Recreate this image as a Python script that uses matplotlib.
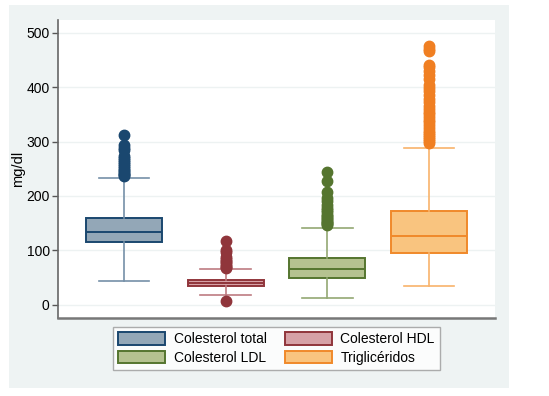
import matplotlib
matplotlib.use("Agg")
import matplotlib.pyplot as plt
from matplotlib.patches import Rectangle, Patch

plt.rcParams['font.family'] = ['Liberation Sans', 'DejaVu Sans']

labels = ["Colesterol total", "Colesterol HDL", "Colesterol LDL", "Triglicéridos"]
whislo = [44, 18, 13, 34]
q1 = [115, 35, 50, 95]
med = [134, 40, 66, 127]
q3 = [160, 46, 86, 173]
whishi = [233, 66, 141, 288]
fliers = [
    [236, 238, 240, 242, 245, 248, 251, 255, 258, 262, 266, 270, 273, 285, 289, 293, 312],
    [8, 68, 70, 72, 75, 78, 81, 85, 88, 98, 100, 118],
    [146, 148, 150, 152, 154, 157, 160, 163, 166, 170, 174, 178, 183, 190, 196, 208, 227, 244],
    [298, 301, 304, 308, 312, 316, 320, 325, 330, 335, 340, 345, 350, 355, 360, 366, 372,
     378, 385, 392, 398, 404, 415, 422, 430, 436, 441, 466, 470, 475],
]
yticks = [0, 100, 200, 300, 400, 500]

edge_c = ["#1a476f", "#90353b", "#55752f", "#f0892a"]
fill_c = ["#93a7b7", "#d6a1a6", "#b5c290", "#f9c47f"]
whisk_c = ["#7590a8", "#bd7c82", "#93a873", "#f8b36b"]
flier_c = ["#1a476f", "#90353b", "#55752f", "#f07f22"]

fig = plt.figure(figsize=(5.49, 3.96), dpi=100)
fig.patch.set_facecolor("white")
fig.add_artist(Rectangle((9/549, 1-388/396), (509-9)/549, (388-5)/396,
                         transform=fig.transFigure, facecolor="#eef3f3",
                         edgecolor="none", zorder=-10))

ax = fig.add_axes([58/549, 1-318/396, (495-58)/549, (318-20)/396])
ax.set_facecolor("white")

for i in range(4):
    st = [dict(whislo=whislo[i], q1=q1[i], med=med[i], q3=q3[i], whishi=whishi[i],
               fliers=fliers[i], label=labels[i])]
    ax.bxp(st, positions=[i+1], widths=0.75, patch_artist=True,
           boxprops=dict(facecolor=fill_c[i], edgecolor=edge_c[i], linewidth=1.4),
           medianprops=dict(color=edge_c[i], linewidth=1.4),
           whiskerprops=dict(color=whisk_c[i], linewidth=1.2),
           capprops=dict(color=whisk_c[i], linewidth=1.2),
           capwidths=0.5,
           flierprops=dict(marker='o', markerfacecolor=flier_c[i], markeredgecolor=flier_c[i],
                           markersize=7.5, linestyle='none'),
           zorder=3)

ax.set_xlim(0.35, 4.65)
ax.set_ylim(-23.9, 523)
ax.set_yticks(yticks)
ax.set_yticklabels([str(v) for v in yticks], fontsize=10)
ax.set_xticks([])
ax.yaxis.grid(True, color="#edf2f2", linewidth=1)
ax.set_axisbelow(True)
ax.tick_params(axis='y', direction='out', length=4, width=1, color="#555555", pad=2)
for s in ["top", "right"]:
    ax.spines[s].set_visible(False)
ax.spines["left"].set_color("#666666")
ax.spines["left"].set_linewidth(1.2)
ax.spines["bottom"].set_color("#777777")
ax.spines["bottom"].set_linewidth(1.8)
ax.set_ylabel("mg/dl", fontsize=10.5, labelpad=1)

order = [0, 2, 1, 3]
handles = [Patch(facecolor=fill_c[i], edgecolor=edge_c[i], linewidth=1.4, label=labels[i])
           for i in order]
leg = fig.legend(handles=handles, ncol=2, loc="center",
                 bbox_to_anchor=((120+433)/2/549, 1-(327+370)/2/396),
                 fontsize=10, frameon=True, fancybox=False, edgecolor="#999999",
                 handlelength=3.4, handleheight=1.0, columnspacing=1.3,
                 labelspacing=0.35, borderpad=0.4, handletextpad=0.6)
leg.get_frame().set_linewidth(1.0)

fig.savefig("out.png", dpi=100, facecolor="white")
